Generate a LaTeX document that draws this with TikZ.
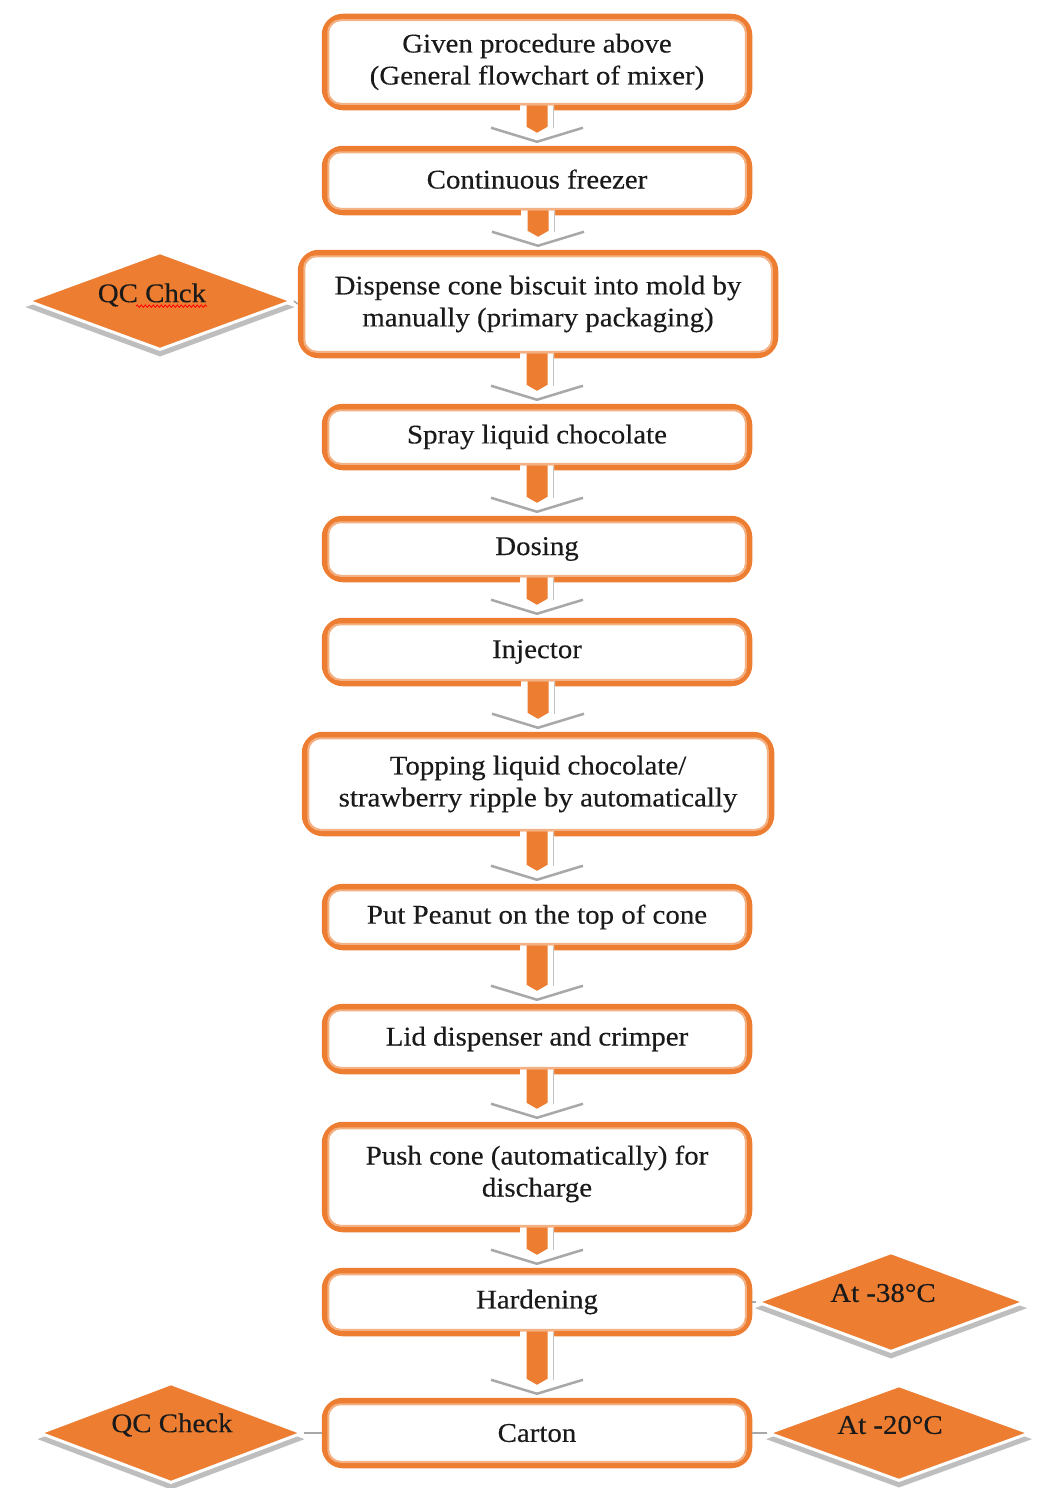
\documentclass[tikz,border=0pt]{standalone}
\usepackage{fontspec}
\setmainfont{Liberation Serif}[FakeStretch=1.07, FakeBold=0.3]
\usetikzlibrary{shapes.geometric,shadows,calc,decorations.pathmorphing}

\definecolor{flowor}{HTML}{ED7D31}
\definecolor{flowlt}{HTML}{F4B183}
\definecolor{ink}{HTML}{1A1A1A}
\definecolor{bevel}{HTML}{A8A8A8}
\definecolor{shade}{HTML}{BEBEBE}

\tikzset{
  stepbox/.style={draw=flowor, line width=6.5pt, rounded corners=18pt, fill=white,
    align=center, inner sep=0pt, text=ink,
    font=\fontsize{27pt}{32pt}\selectfont},
  innerframe/.style={draw=flowlt, line width=2pt, rounded corners=12pt},
  decision/.style={diamond, aspect=3, inner sep=0pt, fill=flowor, draw=white,
    line width=3pt, minimum width=265pt, minimum height=98pt,
    general shadow={fill=shade, shadow yshift=-6pt, shadow scale=1.02}},
  caption/.style={text=ink, font=\fontsize{27pt}{32pt}\selectfont},
  tie/.style={draw=bevel, line width=1.5pt},
}

% block arrow from the bottom of one step to the top of the next
\newcommand\flowarrow[2]{%
  \coordinate (ftop) at (#1.south);
  \coordinate (ftip) at (#2.north);
  \fill[white] ($(ftop -| ftip)+(-17,-5)$) -- ($(ftip)+(-17,-18)$) -- ($(ftip)+(-46,-18)$)
     -- ($(ftip)+(0,-3)$) -- ($(ftip)+(46,-18)$) -- ($(ftip)+(17,-18)$)
     -- ($(ftop -| ftip)+(17,-5)$) -- cycle;
  \draw[bevel!70, line width=1pt] ($(ftop -| ftip)+(16,-4)$) -- ($(ftip)+(16,-18)$);
  \draw[bevel, line width=2.5pt, line join=round] ($(ftip)+(-46,-18)$) -- ($(ftip)+(0,-4)$) -- ($(ftip)+(46,-18)$);
  \fill[flowor] ($(ftop -| ftip)+(-10.5,-5)$) -- ($(ftip)+(-10.5,-19)$) -- ($(ftip)+(0,-13)$)
     -- ($(ftip)+(10.5,-19)$) -- ($(ftop -| ftip)+(10.5,-5)$) -- cycle;
}

\begin{document}
\begin{tikzpicture}[x=1pt, y=-1pt]
\fill[white] (0,0) rectangle (1046,1488);
\useasboundingbox (0,0) rectangle (1046,1488);

% process steps
\node[stepbox, minimum width=424pt, minimum height=90pt]  (b1)  at (537,62)    {Given procedure above\\(General flowchart of mixer)};
\node[stepbox, minimum width=424pt, minimum height=63pt]  (b2)  at (537,180.5) {\raisebox{3pt}{Continuous freezer}};
\node[stepbox, minimum width=474pt, minimum height=102pt] (b3)  at (538,304)   {Dispense cone biscuit into mold by\\manually (primary packaging)};
\node[stepbox, minimum width=424pt, minimum height=60pt]  (b4)  at (537,437)   {Spray liquid chocolate};
\node[stepbox, minimum width=424pt, minimum height=60pt]  (b5)  at (537,549)   {Dosing};
\node[stepbox, minimum width=424pt, minimum height=62pt]  (b6)  at (537,652)   {Injector};
\node[stepbox, minimum width=466pt, minimum height=98pt]  (b7)  at (538,784)   {Topping liquid chocolate/\\strawberry ripple by automatically};
\node[stepbox, minimum width=424pt, minimum height=60pt]  (b8)  at (537,917)   {Put Peanut on the top of cone};
\node[stepbox, minimum width=424pt, minimum height=64pt]  (b9)  at (537,1039)  {Lid dispenser and crimper};
\node[stepbox, minimum width=424pt, minimum height=104pt] (b10) at (537,1177)  {Push cone (automatically) for\\discharge\\[-20pt]};
\node[stepbox, minimum width=424pt, minimum height=62pt]  (b11) at (537,1302)  {Hardening};
\node[stepbox, minimum width=424pt, minimum height=64pt]  (b12) at (537,1433)  {Carton};

% thin inner frame of each step
\foreach \n in {b1,b2,b3,b4,b5,b6,b7,b8,b9,b10,b11,b12}
  \draw[innerframe] ([shift={(6.5,6.5)}]\n.north west) rectangle ([shift={(-6.5,-6.5)}]\n.south east);

% flow arrows
\flowarrow{b1}{b2}
\flowarrow{b2}{b3}
\flowarrow{b3}{b4}
\flowarrow{b4}{b5}
\flowarrow{b5}{b6}
\flowarrow{b6}{b7}
\flowarrow{b7}{b8}
\flowarrow{b8}{b9}
\flowarrow{b9}{b10}
\flowarrow{b10}{b11}
\flowarrow{b11}{b12}

% side decisions and conditions
\node[decision] (d1) at (160,301) {};
\node[decision, minimum width=268pt, minimum height=100pt] (d2) at (891,1302) {};
\node[decision, minimum width=262pt, minimum height=96pt]  (d3) at (899,1433) {};
\node[decision, minimum width=263pt, minimum height=100pt] (d4) at (171,1433) {};

\node[caption] (t1) at ($(d1)+(-8,-6)$) {QC Chck};
\node[caption] (t2) at ($(d2)+(-8,-9)$) {At -38°C};
\node[caption] (t3) at ($(d3)+(-9,-8)$) {At -20°C};
\node[caption] (t4) at ($(d4)+(1,-8)$)  {QC Check};

% spelling mark under the misspelt word
\draw[red, line width=0.8pt, decorate, decoration={snake, amplitude=1.2pt, segment length=4pt}]
  ($(t1.base)+(-16,4)$) -- ($(t1.base)+(55,4)$);

\draw[tie] (d1.east) -- (b3.west);
\draw[tie] (d2.west) -- (b11.east);
\draw[tie] (d3.west) -- (b12.east);
\draw[tie] (d4.east) -- (b12.west);
\end{tikzpicture}
\end{document}
